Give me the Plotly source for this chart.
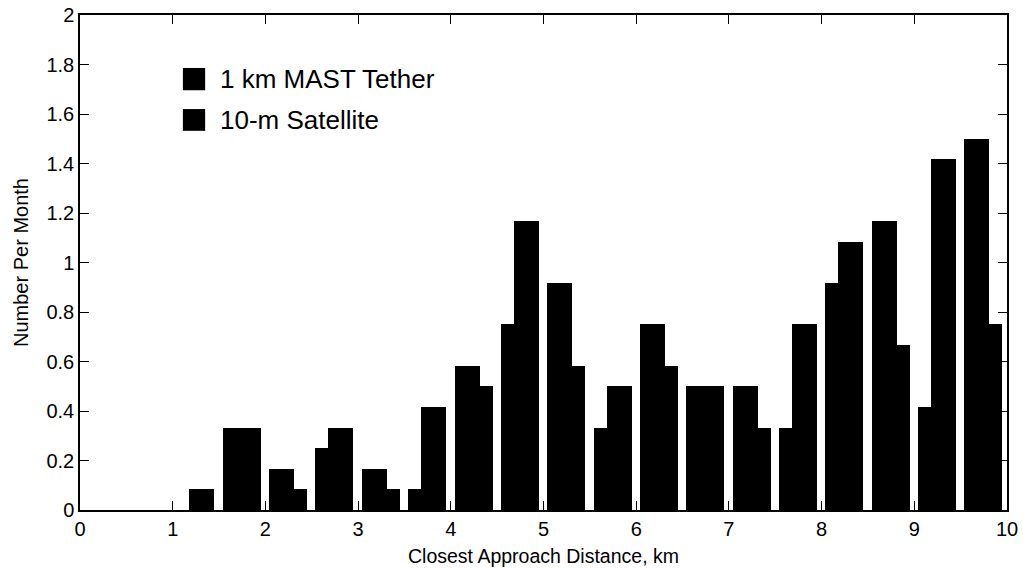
import plotly.graph_objects as go

# Bin centres (0.5 km bins) and monthly counts
bin_centers = [0.25, 0.75, 1.25, 1.75, 2.25, 2.75, 3.25, 3.75, 4.25, 4.75,
               5.25, 5.75, 6.25, 6.75, 7.25, 7.75, 8.25, 8.75, 9.25, 9.75]
tether_1km = [0, 0, 0, 0.333, 0.167, 0.25, 0.167, 0.083, 0.583, 0.75,
              0.917, 0.333, 0.75, 0.5, 0.5, 0.333, 0.917, 1.167, 0.417, 1.5]
satellite_10m = [0, 0, 0.083, 0.333, 0.083, 0.333, 0.083, 0.417, 0.5, 1.167,
                 0.583, 0.5, 0.583, 0.5, 0.333, 0.75, 1.083, 0.667, 1.417, 0.75]
series_names = ["1 km MAST Tether", "10-m Satellite"]
x_ticks = [0, 1, 2, 3, 4, 5, 6, 7, 8, 9, 10]
y_ticks = [0, 0.2, 0.4, 0.6, 0.8, 1, 1.2, 1.4, 1.6, 1.8, 2]
y_tick_labels = ["0", "0.2", "0.4", "0.6", "0.8", "1", "1.2", "1.4", "1.6", "1.8", "2"]

FONT = "Arial, 'Liberation Sans', Helvetica, sans-serif"

fig = go.Figure()
fig.add_trace(go.Bar(x=bin_centers, y=tether_1km, name=series_names[0],
                     width=0.27, offset=-0.21,
                     marker=dict(color="black", line=dict(width=0)),
                     showlegend=False))
fig.add_trace(go.Bar(x=bin_centers, y=satellite_10m, name=series_names[1],
                     width=0.27, offset=-0.07,
                     marker=dict(color="black", line=dict(width=0)),
                     showlegend=False))

# Legend drawn inside the plot, as in the reference
legend_rows = [(0.893, 0.848), (0.810, 0.766)]
for (y1, y0), name in zip(legend_rows, series_names):
    fig.add_shape(type="rect", xref="paper", yref="paper",
                  x0=0.111, x1=0.135, y0=y0, y1=y1,
                  fillcolor="black", line=dict(width=0))
    fig.add_annotation(xref="paper", yref="paper", x=0.149, y=(y0 + y1) / 2,
                       text=name, showarrow=False, xanchor="left", yanchor="middle",
                       font=dict(family=FONT, size=26, color="black"))

axis_common = dict(showline=True, linecolor="black", linewidth=1.5, mirror="ticks",
                   ticks="inside", ticklen=9, tickwidth=1.2, tickcolor="black",
                   showgrid=False, zeroline=False, automargin=False,
                   tickfont=dict(family=FONT, size=20, color="black"))

fig.update_layout(
    width=1023, height=569,
    margin=dict(l=80, r=16, t=15, b=59),
    paper_bgcolor="white", plot_bgcolor="white",
    barmode="overlay", bargap=0,
    xaxis=dict(range=[0, 10], tickvals=x_ticks,
               title=dict(text="Closest Approach Distance, km", standoff=11,
                          font=dict(family=FONT, size=19.5, color="black")),
               **axis_common),
    yaxis=dict(range=[0, 2], tickvals=y_ticks, ticktext=y_tick_labels,
               title=dict(text="Number Per Month", standoff=12,
                          font=dict(family=FONT, size=20, color="black")),
               **axis_common),
)

# Remove the default page margin so the figure fills the window exactly
fig.write_html("out.html",
               config={"displayModeBar": False},
               post_script="document.body.style.margin='0px';document.body.style.overflow='hidden';")
